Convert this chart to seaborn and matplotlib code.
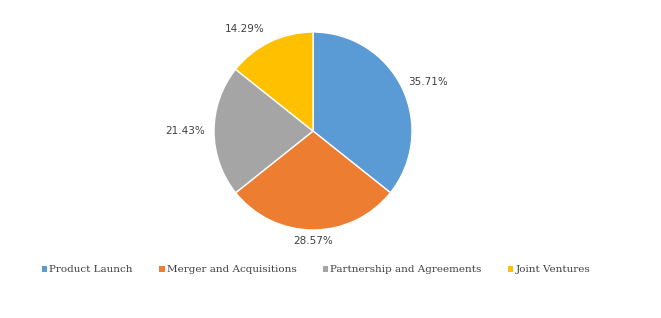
import matplotlib
matplotlib.use("Agg")
import matplotlib.pyplot as plt
import seaborn as sns
import numpy as np
from matplotlib.patches import Patch

categories = ["Product Launch", "Merger and Acquisitions", "Partnership and Agreements", "Joint Ventures"]
shares = [35.71, 28.57, 21.43, 14.29]
colors = ["#5B9BD5", "#ED7D31", "#A5A5A5", "#FFC000"]
# label placement (style only)
label_dist = [1.26, 1.11, 1.29, 1.24]
label_shift = [-2.7, 0.0, 0.0, 8.0]

sns.set_theme(style="white")
plt.rcParams["font.family"] = ["DejaVu Sans"]

fig = plt.figure(figsize=(6.61, 3.18), dpi=100)
ax = fig.add_axes([0.3238, 0.2767, 0.2995, 0.6226])
wedges, _ = ax.pie(shares, colors=colors, startangle=90, counterclock=False,
                   wedgeprops=dict(edgecolor="white", linewidth=1.0))
for w, v, d, s in zip(wedges, shares, label_dist, label_shift):
    ang = np.deg2rad((w.theta1 + w.theta2) / 2 + s)
    ax.text(d * np.cos(ang), d * np.sin(ang), f"{v:.2f}%", ha="center", va="center",
            fontsize=7.5, color="#404040")
ax.set_xlim(-1, 1); ax.set_ylim(-1, 1)
ax.set_aspect("equal")

handles = [Patch(facecolor=c, edgecolor="none") for c in colors]
leg = fig.legend(handles, categories, loc="center", bbox_to_anchor=(0.478, 0.151), ncol=4,
                 frameon=False, handlelength=0.55, handleheight=0.55, handletextpad=0.2,
                 columnspacing=2.5, prop=dict(family="DejaVu Serif", size=7.5))
for t in leg.get_texts():
    t.set_color("#404040")
fig.savefig("out.png", dpi=100)
